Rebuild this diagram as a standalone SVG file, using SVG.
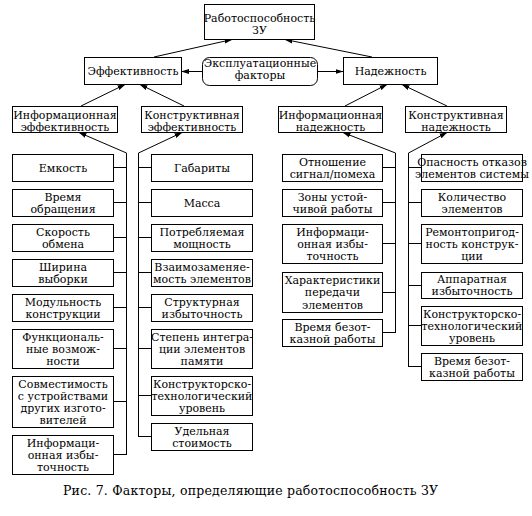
<svg xmlns="http://www.w3.org/2000/svg" width="532" height="516" viewBox="0 0 532 516">
  <style>
    .box { fill: #fff; stroke: #000; stroke-width: 1; shape-rendering: crispEdges; }
    .lbl { font-family: "DejaVu Serif", serif; font-size: 11px; fill: #000; text-anchor: middle; }
    .cap { font-family: "DejaVu Serif", serif; font-size: 12.5px; fill: #000; }
    .bus { stroke: #000; stroke-width: 1; fill: none; shape-rendering: crispEdges; }
    .arr { stroke: #000; stroke-width: 1; fill: none; marker-end: url(#ah); }
  </style>
  <defs>
    <marker id="ah" markerWidth="8" markerHeight="6" refX="7.5" refY="3" orient="auto" markerUnits="userSpaceOnUse">
      <path d="M0,0.5 L8,3 L0,5.5 z" fill="#000"/>
    </marker>
  </defs>
  <rect width="532" height="516" fill="#fff"/>

  <!-- connectors -->
  <g id="connectors">
    <line class="arr" x1="154" y1="57" x2="232" y2="39.5"/>
    <line class="arr" x1="372" y1="57" x2="285" y2="39.5"/>
    <line class="arr" x1="202" y1="71.5" x2="181.5" y2="71.5"/>
    <line class="arr" x1="317" y1="71.5" x2="343" y2="71.5"/>
    <line class="arr" x1="81" y1="106" x2="125" y2="84.5"/>
    <line class="arr" x1="184" y1="106" x2="140" y2="84.5"/>
    <line class="arr" x1="345" y1="106" x2="387" y2="84.5"/>
    <line class="arr" x1="447" y1="106" x2="402" y2="84.5"/>
    <line class="arr" x1="126.5" y1="153" x2="79" y2="132.5"/>
    <line class="arr" x1="138.5" y1="153" x2="182" y2="132.5"/>
    <line class="arr" x1="395.5" y1="153" x2="343" y2="132.5"/>
    <line class="arr" x1="408.5" y1="153" x2="447" y2="132.5"/>

    <!-- information efficiency bus -->
    <path class="bus" d="M126.5,153 V454.5 M113,167.5 H126.5 M113,202.5 H126.5 M113,237.5 H126.5 M113,272.5 H126.5 M113,307.5 H126.5 M113,348.5 H126.5 M113,401.5 H126.5 M113,454.5 H126.5"/>
    <!-- design efficiency bus -->
    <path class="bus" d="M138.5,153 V436.5 M138.5,167.5 H151 M138.5,202.5 H151 M138.5,237.5 H151 M138.5,272.5 H151 M138.5,307.5 H151 M138.5,348.5 H151 M138.5,395.5 H151 M138.5,436.5 H151"/>
    <!-- information reliability bus -->
    <path class="bus" d="M395.5,153 V332.5 M382,167.5 H395.5 M382,202.5 H395.5 M382,243.5 H395.5 M382,292.5 H395.5 M382,332.5 H395.5"/>
    <!-- design reliability bus -->
    <path class="bus" d="M408.5,153 V366.5 M408.5,167.5 H421 M408.5,202.5 H421 M408.5,243.5 H421 M408.5,285.5 H421 M408.5,325.5 H421 M408.5,366.5 H421"/>
  </g>

  <!-- top level -->
  <g id="n-root">
    <rect class="box" x="204.5" y="4.5" width="110" height="35"/>
    <text class="lbl" x="259.5" y="22">Работоспособность<tspan x="259.5" dy="12.2">ЗУ</tspan></text>
  </g>
  <g id="n-eff">
    <rect class="box" x="84.5" y="57.5" width="97" height="27"/>
    <text class="lbl" x="133" y="75">Эффективность</text>
  </g>
  <g id="n-oper">
    <rect class="box" x="202.5" y="57.5" width="115" height="28" rx="7" ry="7" style="shape-rendering:auto"/>
    <text class="lbl" x="260" y="67">Эксплуатационные<tspan x="260" dy="12">факторы</tspan></text>
  </g>
  <g id="n-rel">
    <rect class="box" x="343.5" y="57.5" width="94" height="27"/>
    <text class="lbl" x="390.5" y="75">Надежность</text>
  </g>

  <!-- second level -->
  <g id="n-info-eff">
    <rect class="box" x="12.5" y="106.5" width="105" height="26"/>
    <text class="lbl" x="65" y="119">Информационная<tspan x="65" dy="12">эффективность</tspan></text>
  </g>
  <g id="n-des-eff">
    <rect class="box" x="141.5" y="106.5" width="101" height="26"/>
    <text class="lbl" x="192" y="119">Конструктивная<tspan x="192" dy="12">эффективность</tspan></text>
  </g>
  <g id="n-info-rel">
    <rect class="box" x="278.5" y="106.5" width="104" height="26"/>
    <text class="lbl" x="330.5" y="119">Информационная<tspan x="330.5" dy="12">надежность</tspan></text>
  </g>
  <g id="n-des-rel">
    <rect class="box" x="405.5" y="106.5" width="101" height="26"/>
    <text class="lbl" x="456" y="119">Конструктивная<tspan x="456" dy="12">надежность</tspan></text>
  </g>

  <!-- information efficiency factors -->
  <g id="n-ie1"><rect class="box" x="12.5" y="154.5" width="101" height="27"/>
    <text class="lbl" x="63" y="171.8">Емкость</text></g>
  <g id="n-ie2"><rect class="box" x="12.5" y="189.5" width="101" height="27"/>
    <text class="lbl" x="63" y="200.7">Время<tspan x="63" dy="12.2">обращения</tspan></text></g>
  <g id="n-ie3"><rect class="box" x="12.5" y="224.5" width="101" height="27"/>
    <text class="lbl" x="63" y="235.7">Скорость<tspan x="63" dy="12.2">обмена</tspan></text></g>
  <g id="n-ie4"><rect class="box" x="12.5" y="259.5" width="101" height="27"/>
    <text class="lbl" x="63" y="270.7">Ширина<tspan x="63" dy="12.2">выборки</tspan></text></g>
  <g id="n-ie5"><rect class="box" x="12.5" y="294.5" width="101" height="27"/>
    <text class="lbl" x="63" y="305.7">Модульность<tspan x="63" dy="12.2">конструкции</tspan></text></g>
  <g id="n-ie6"><rect class="box" x="12.5" y="329.5" width="101" height="39"/>
    <text class="lbl" x="63" y="340.6">Функциональ-<tspan x="63" dy="12.2">ные возмож-</tspan><tspan x="63" dy="12.2">ности</tspan></text></g>
  <g id="n-ie7"><rect class="box" x="12.5" y="376.5" width="101" height="51"/>
    <text class="lbl" x="63" y="387.5">Совместимость<tspan x="63" dy="12.2">с устройствами</tspan><tspan x="63" dy="12.2">других изгото-</tspan><tspan x="63" dy="12.2">вителей</tspan></text></g>
  <g id="n-ie8"><rect class="box" x="12.5" y="435.5" width="101" height="39"/>
    <text class="lbl" x="63" y="446.6">Информаци-<tspan x="63" dy="12.2">онная избы-</tspan><tspan x="63" dy="12.2">точность</tspan></text></g>

  <!-- design efficiency factors -->
  <g id="n-de1"><rect class="box" x="151.5" y="154.5" width="101" height="27"/>
    <text class="lbl" x="202" y="171.8">Габариты</text></g>
  <g id="n-de2"><rect class="box" x="151.5" y="189.5" width="101" height="27"/>
    <text class="lbl" x="202" y="206.8">Масса</text></g>
  <g id="n-de3"><rect class="box" x="151.5" y="224.5" width="101" height="27"/>
    <text class="lbl" x="202" y="235.7">Потребляемая<tspan x="202" dy="12.2">мощность</tspan></text></g>
  <g id="n-de4"><rect class="box" x="151.5" y="259.5" width="101" height="27"/>
    <text class="lbl" x="202" y="270.7">Взаимозаменяе-<tspan x="202" dy="12.2">мость элементов</tspan></text></g>
  <g id="n-de5"><rect class="box" x="151.5" y="294.5" width="101" height="27"/>
    <text class="lbl" x="202" y="305.7">Структурная<tspan x="202" dy="12.2">избыточность</tspan></text></g>
  <g id="n-de6"><rect class="box" x="151.5" y="329.5" width="101" height="39"/>
    <text class="lbl" x="202" y="340.6">Степень интегра-<tspan x="202" dy="12.2">ции элементов</tspan><tspan x="202" dy="12.2">памяти</tspan></text></g>
  <g id="n-de7"><rect class="box" x="151.5" y="376.5" width="101" height="39"/>
    <text class="lbl" x="202" y="387.6">Конструкторско-<tspan x="202" dy="12.2">технологический</tspan><tspan x="202" dy="12.2">уровень</tspan></text></g>
  <g id="n-de8"><rect class="box" x="151.5" y="423.5" width="101" height="27"/>
    <text class="lbl" x="202" y="434.7">Удельная<tspan x="202" dy="12.2">стоимость</tspan></text></g>

  <!-- information reliability factors -->
  <g id="n-ir1"><rect class="box" x="282.5" y="154.5" width="100" height="27"/>
    <text class="lbl" x="332.5" y="165.7">Отношение<tspan x="332.5" dy="12.2">сигнал/помеха</tspan></text></g>
  <g id="n-ir2"><rect class="box" x="282.5" y="189.5" width="100" height="27"/>
    <text class="lbl" x="332.5" y="200.7">Зоны устой-<tspan x="332.5" dy="12.2">чивой работы</tspan></text></g>
  <g id="n-ir3"><rect class="box" x="282.5" y="224.5" width="100" height="39"/>
    <text class="lbl" x="332.5" y="235.6">Информаци-<tspan x="332.5" dy="12.2">онная избы-</tspan><tspan x="332.5" dy="12.2">точность</tspan></text></g>
  <g id="n-ir4"><rect class="box" x="282.5" y="272.5" width="100" height="40"/>
    <text class="lbl" x="332.5" y="284.1">Характеристики<tspan x="332.5" dy="12.2">передачи</tspan><tspan x="332.5" dy="12.2">элементов</tspan></text></g>
  <g id="n-ir5"><rect class="box" x="282.5" y="319.5" width="100" height="27"/>
    <text class="lbl" x="332.5" y="330.7">Время безот-<tspan x="332.5" dy="12.2">казной работы</tspan></text></g>

  <!-- design reliability factors -->
  <g id="n-dr1"><rect class="box" x="421.5" y="154.5" width="101" height="27"/>
    <text class="lbl" x="472" y="165.7">Опасность отказов<tspan x="472" dy="12.2">элементов системы</tspan></text></g>
  <g id="n-dr2"><rect class="box" x="421.5" y="189.5" width="101" height="27"/>
    <text class="lbl" x="472" y="200.7">Количество<tspan x="472" dy="12.2">элементов</tspan></text></g>
  <g id="n-dr3"><rect class="box" x="421.5" y="224.5" width="101" height="39"/>
    <text class="lbl" x="472" y="235.6">Ремонтопригод-<tspan x="472" dy="12.2">ность конструк-</tspan><tspan x="472" dy="12.2">ции</tspan></text></g>
  <g id="n-dr4"><rect class="box" x="421.5" y="272.5" width="101" height="26"/>
    <text class="lbl" x="472" y="283.2">Аппаратная<tspan x="472" dy="12.2">избыточность</tspan></text></g>
  <g id="n-dr5"><rect class="box" x="421.5" y="306.5" width="101" height="39"/>
    <text class="lbl" x="472" y="317.6">Конструкторско-<tspan x="472" dy="12.2">технологический</tspan><tspan x="472" dy="12.2">уровень</tspan></text></g>
  <g id="n-dr6"><rect class="box" x="421.5" y="353.5" width="101" height="27"/>
    <text class="lbl" x="472" y="364.7">Время безот-<tspan x="472" dy="12.2">казной работы</tspan></text></g>

  <!-- caption -->
  <text class="cap" x="63" y="495" textLength="375" lengthAdjust="spacing">Рис. 7. Факторы, определяющие работоспособность ЗУ</text>
</svg>
